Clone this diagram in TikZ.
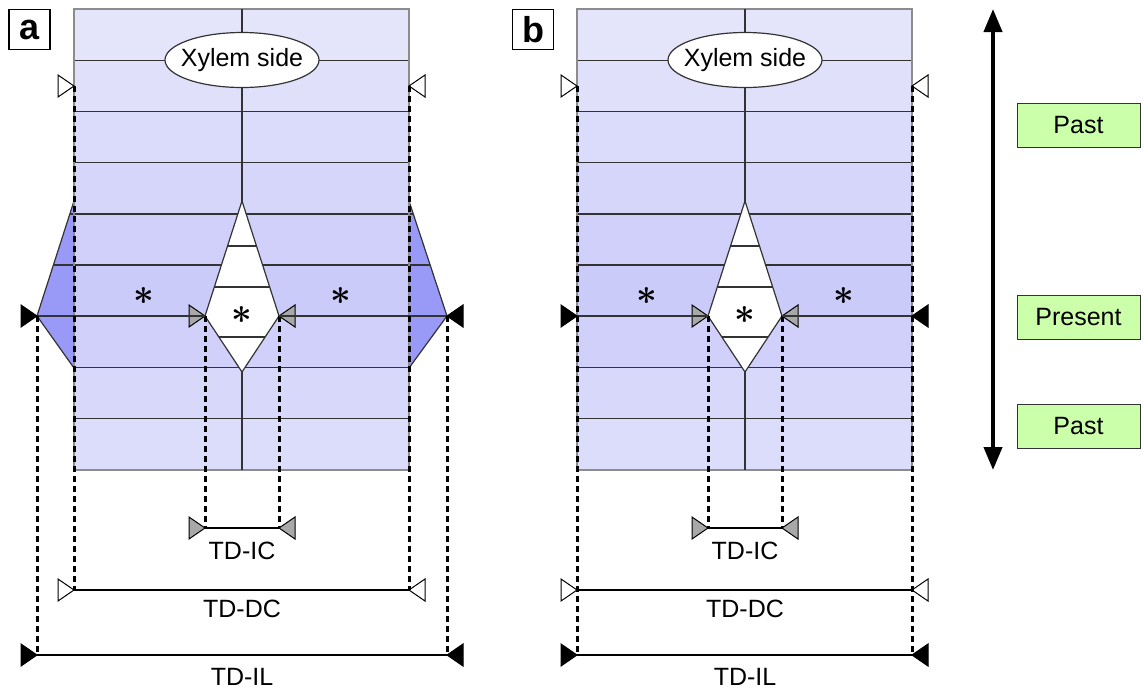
\documentclass[tikz,border=0pt]{standalone}
\usepackage{fontspec}
\usepackage{graphicx}
\setmainfont{Liberation Sans}
\usetikzlibrary{arrows.meta,shapes.geometric}
\definecolor{r1}{HTML}{E4E4FB}
\definecolor{r2}{HTML}{E0E0FB}
\definecolor{r3}{HTML}{DBDBFB}
\definecolor{r4}{HTML}{D6D6FB}
\definecolor{r5}{HTML}{D0D0FB}
\definecolor{r6}{HTML}{CBCBFA}
\definecolor{r7}{HTML}{D0D0FB}
\definecolor{r8}{HTML}{D8D8FB}
\definecolor{r9}{HTML}{DCDCFB}
\definecolor{poly}{HTML}{9999F8}
\definecolor{grn}{HTML}{CCFFAA}
\definecolor{edge}{HTML}{333333}
\definecolor{bord}{HTML}{8C8C8C}
\definecolor{trigray}{HTML}{A8A8A8}
\newcommand\rowfills{%
  \foreach \c [count=\i from 0] in {r1,r2,r3,r4,r5,r6,r7,r8,r9}
    {\fill[\c] (74,{9+51.222*\i}) rectangle (409,{9+51.222*(\i+1)});}}
\newcommand\bigast{\scalebox{3.6}{\boldmath$\ast$}}
\newcommand\panelcore[1]{%
  \draw[border] (74,9) rectangle (409,470);
  \draw[rowline] (242,9) -- (242,470);
  \filldraw[fill=white,draw=edge,line width=1.2pt,line join=miter] (242,201) -- (279,316) -- (242,372) -- (205,316) -- cycle;
  \draw[rowline] (227.5,246) -- (256.5,246) (214.3,287) -- (269.7,287) (218.9,337) -- (265.1,337);
  \node[xyl,label={[lbl]center:Xylem side}] (#1xy) at (242,60) {};
  \node[star] (#1s1) at (144,296) {\bigast};
  \node[star] (#1s2) at (242,315) {\bigast};
  \node[star] (#1s3) at (341,296) {\bigast};
  \coordinate (#1icTL) at (205,316);
  \coordinate (#1icTR) at (279,316);
  \coordinate (#1icBL) at (205,528);
  \coordinate (#1icBR) at (279,528);
  \draw[guide] (#1icTL) -- (#1icBL);
  \draw[guide] (#1icTR) -- (#1icBR);
  \draw[dim] (#1icBL) -- (#1icBR);
  \pic at (#1icTL) {tri=trigray};
  \pic[rotate=180] at (#1icTR) {tri=trigray};
  \pic at (#1icBL) {tri=trigray};
  \pic[rotate=180] at (#1icBR) {tri=trigray};
  \node[lbl] (#1icl) at (242,551) {TD-IC};
  \coordinate (#1dcTL) at (74,86);
  \coordinate (#1dcTR) at (409,86);
  \coordinate (#1dcBL) at (74,590);
  \coordinate (#1dcBR) at (409,590);
  \draw[dim] (#1dcBL) -- (#1dcBR);
  \pic at (#1dcTL) {tri=white};
  \pic[rotate=180] at (#1dcTR) {tri=white};
  \pic at (#1dcBL) {tri=white};
  \pic[rotate=180] at (#1dcBR) {tri=white};
  \node[lbl] (#1dcl) at (242,609) {TD-DC};
  \node[lbl] (#1ill) at (242,677) {TD-IL};
}
\begin{document}
\begin{tikzpicture}[x=1pt,y=-1pt,
  border/.style={draw=bord,line width=1.2pt},
  rowline/.style={draw=edge,line width=1.3pt},
  dim/.style={draw=black,line width=1.3pt},
  guide/.style={draw=black,line width=3pt,dash pattern=on 6pt off 4pt},
  lbl/.style={font=\fontsize{25}{28}\selectfont,inner sep=0pt},
  star/.style={inner sep=0pt},
  xyl/.style={ellipse,draw=edge,fill=white,line width=1.2pt,minimum width=154pt,minimum height=55pt,inner sep=0pt},
  tag/.style={draw=black,line width=1.2pt,minimum width=41pt,minimum height=40pt,inner sep=0pt,font=\fontsize{36}{36}\selectfont\bfseries},
  pbox/.style={draw=edge,fill=grn,line width=1pt,minimum width=123pt,minimum height=44pt,inner sep=0pt,font=\fontsize{25}{28}\selectfont},
  pics/tri/.style={code={\draw[fill=#1,draw=black,line width=1pt,line join=miter] (0,0) -- (-16,-11) -- (-16,11) -- cycle;}},
]
\useasboundingbox (0,0) rectangle (1144,689);
% ---------- panel a ----------
\begin{scope}
  \rowfills
  \fill[poly] (74,201) -- (37,316) -- (74,368) -- cycle;
  \fill[poly] (409,201) -- (447,316) -- (409,368) -- cycle;
  \draw[edge,line width=1.2pt,line join=miter] (74,201) -- (37,316) -- (74,368);
  \draw[edge,line width=1.2pt,line join=miter] (409,201) -- (447,316) -- (409,368);
  \draw[rowline] (74,60.2) -- (409,60.2) (74,111.4) -- (409,111.4) (74,162.7) -- (409,162.7)
    (70,213.9) -- (413,213.9) (53,265.1) -- (430,265.1) (73.3,367.6) -- (409.7,367.6) (74,418.8) -- (409,418.8);
  \panelcore{a}
  \coordinate (ailTL) at (37,316);
  \coordinate (ailTR) at (447,316);
  \coordinate (ailBL) at (37,655);
  \coordinate (ailBR) at (447,655);
  \draw[rowline] (ailTL) -- (aicTL);
  \draw[rowline] (aicTR) -- (ailTR);
  \draw[guide] (adcTL) -- (adcBL);
  \draw[guide] (adcTR) -- (adcBR);
  \draw[guide] (ailTL) -- (ailBL);
  \draw[guide] (ailTR) -- (ailBR);
  \draw[dim] (ailBL) -- (ailBR);
  \pic at (ailTL) {tri=black};
  \pic[rotate=180] at (ailTR) {tri=black};
  \pic at (ailBL) {tri=black};
  \pic[rotate=180] at (ailBR) {tri=black};
  \node[tag] (taga) at (29.5,29.5) {a};
\end{scope}
% ---------- panel b ----------
\begin{scope}[xshift=503]
  \rowfills
  \draw[rowline] (74,60.2) -- (409,60.2) (74,111.4) -- (409,111.4) (74,162.7) -- (409,162.7)
    (74,213.9) -- (409,213.9) (74,265.1) -- (409,265.1) (74,367.6) -- (409,367.6) (74,418.8) -- (409,418.8);
  \panelcore{b}
  \coordinate (bilTL) at (74,316);
  \coordinate (bilTR) at (409,316);
  \coordinate (bilBL) at (74,655);
  \coordinate (bilBR) at (409,655);
  \draw[rowline] (bilTL) -- (bicTL);
  \draw[rowline] (bicTR) -- (bilTR);
  \draw[guide] (bdcTL) -- (bilBL);
  \draw[guide] (bdcTR) -- (bilBR);
  \draw[dim] (bilBL) -- (bilBR);
  \pic at (bilTL) {tri=black};
  \pic[rotate=180] at (bilTR) {tri=black};
  \pic at (bilBL) {tri=black};
  \pic[rotate=180] at (bilBR) {tri=black};
  \node[tag] (tagb) at (30,29.5) {b};
\end{scope}
% ---------- time axis ----------
\coordinate (tTop) at (993,9);
\coordinate (tBot) at (993,470);
\draw[line width=4pt,{Triangle[length=23pt,width=18pt]}-{Triangle[length=23pt,width=18pt]}] (tTop) -- (tBot);
\node[pbox] (past1) at (1078.5,125) {Past};
\node[pbox] (present) at (1078.5,317.5) {Present};
\node[pbox] (past2) at (1078.5,426.5) {Past};
\end{tikzpicture}
\end{document}
